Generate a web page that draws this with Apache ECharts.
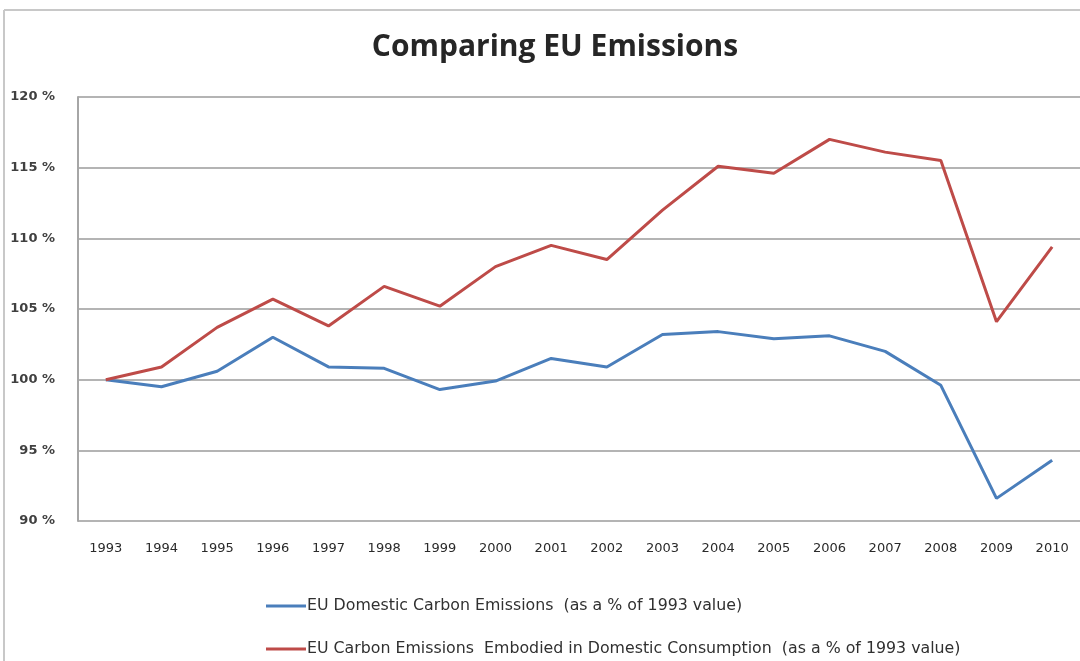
<!DOCTYPE html>
<html>
<head>
<meta charset="utf-8">
<script src="https://cdn.jsdelivr.net/npm/echarts@6/dist/echarts.min.js"></script>
<style>html,body{margin:0;padding:0;background:#fff}#c{width:1080px;height:661px}</style>
</head>
<body>
<div id="c"></div>
<script>
const years = ['1993','1994','1995','1996','1997','1998','1999','2000','2001','2002','2003','2004','2005','2006','2007','2008','2009','2010'];
const domestic = [100, 99.5, 100.6, 103.0, 100.9, 100.8, 99.3, 99.9, 101.5, 100.9, 103.2, 103.4, 102.9, 103.1, 102.0, 99.6, 91.6, 94.3];
const embodied = [100, 100.9, 103.7, 105.7, 103.8, 106.6, 105.2, 108.0, 109.5, 108.5, 112.0, 115.1, 114.6, 117.0, 116.1, 115.5, 104.1, 109.4];
const seriesNames = ['EU Domestic Carbon Emissions  (as a % of 1993 value)', 'EU Carbon Emissions  Embodied in Domestic Consumption  (as a % of 1993 value)'];
const yTicks = { min: 90, max: 120, interval: 5 };

const chart = echarts.init(document.getElementById('c'));
const font = '"Open Sans", sans-serif';
const dv = '"DejaVu Sans", sans-serif';
const legendBase = {
  orient: 'vertical', left: 266, padding: 0,
  icon: 'rect', itemWidth: 40, itemHeight: 3,
  textStyle: { fontFamily: dv, fontSize: 15.8, color: '#303030', padding: [0,0,0,-4] }
};
chart.setOption({
  animation: false,
  backgroundColor: '#ffffff',
  title: {
    text: 'Comparing EU Emissions',
    left: 550, top: 27, textAlign: 'center',
    textStyle: { fontFamily: font, fontSize: 30, fontWeight: 'bold', color: '#262626' }
  },
  graphic: [
    { type: 'line', shape: { x1: 4, y1: 10, x2: 1080, y2: 10 }, style: { stroke: '#c8c8c8', lineWidth: 2 } },
    { type: 'line', shape: { x1: 4, y1: 10, x2: 4, y2: 661 }, style: { stroke: '#c8c8c8', lineWidth: 2 } }
  ],
  grid: { left: 78, top: 97, height: 424, width: 1012, containLabel: false },
  xAxis: {
    type: 'category', data: years, boundaryGap: true,
    axisLine: { show: false }, axisTick: { show: false },
    axisLabel: { margin: 21, fontFamily: dv, fontSize: 13, color: '#2a2a2a' }
  },
  yAxis: {
    type: 'value', min: yTicks.min, max: yTicks.max, interval: yTicks.interval,
    axisLine: { show: true, lineStyle: { color: '#a6a6a6', width: 2 } },
    axisTick: { show: false },
    splitLine: { lineStyle: { color: '#b4b4b4', width: 2 } },
    axisLabel: { margin: 23, fontFamily: dv, fontSize: 13, fontWeight: 'bold', color: '#404040', formatter: v => v + ' %' }
  },
  legend: [
    Object.assign({}, legendBase, { top: 598, data: [seriesNames[0]] }),
    Object.assign({}, legendBase, { top: 641, data: [seriesNames[1]] })
  ],
  series: [
    { name: seriesNames[0], type: 'line', data: domestic, symbol: 'none', lineStyle: { color: '#4a7ebb', width: 3 }, itemStyle: { color: '#4a7ebb' } },
    { name: seriesNames[1], type: 'line', data: embodied, symbol: 'none', lineStyle: { color: '#be4b48', width: 3 }, itemStyle: { color: '#be4b48' } }
  ]
});
</script>
</body>
</html>
